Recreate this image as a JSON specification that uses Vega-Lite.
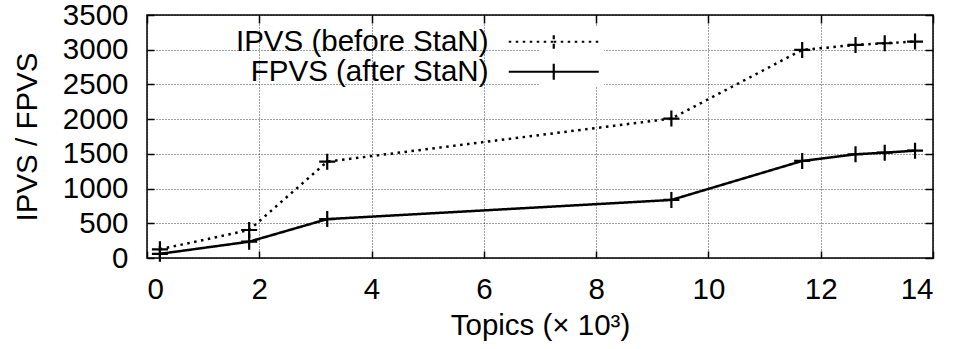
{
  "$schema": "https://vega.github.io/schema/vega-lite/v6.json",
  "width": 786,
  "height": 243,
  "autosize": {"type": "none"},
  "padding": {"left": 147, "top": 15, "right": 24, "bottom": 91},
  "background": "white",
  "config": {
    "font": "Liberation Sans",
    "view": {"stroke": "black", "strokeWidth": 1.5},
    "axis": {
      "labelFont": "Liberation Sans",
      "titleFont": "Liberation Sans",
      "labelFontSize": 29.5,
      "titleFontSize": 29.5,
      "titleFontWeight": "normal",
      "labelColor": "black",
      "titleColor": "black",
      "tickColor": "black",
      "tickWidth": 1.5,
      "domain": false
    },
    "legend": {"labelFont": "Liberation Sans", "labelColor": "black"}
  },
  "data": {
    "values": [
      {"topics": 0.23, "value": 125, "series": "IPVS (before StaN)"},
      {"topics": 1.82, "value": 403, "series": "IPVS (before StaN)"},
      {"topics": 3.21, "value": 1388, "series": "IPVS (before StaN)"},
      {"topics": 9.34, "value": 2008, "series": "IPVS (before StaN)"},
      {"topics": 11.67, "value": 2997, "series": "IPVS (before StaN)"},
      {"topics": 12.62, "value": 3069, "series": "IPVS (before StaN)"},
      {"topics": 13.14, "value": 3093, "series": "IPVS (before StaN)"},
      {"topics": 13.68, "value": 3117, "series": "IPVS (before StaN)"},
      {"topics": 0.23, "value": 60, "series": "FPVS (after StaN)"},
      {"topics": 1.82, "value": 235, "series": "FPVS (after StaN)"},
      {"topics": 3.21, "value": 560, "series": "FPVS (after StaN)"},
      {"topics": 9.34, "value": 836, "series": "FPVS (after StaN)"},
      {"topics": 11.67, "value": 1398, "series": "FPVS (after StaN)"},
      {"topics": 12.62, "value": 1494, "series": "FPVS (after StaN)"},
      {"topics": 13.14, "value": 1517, "series": "FPVS (after StaN)"},
      {"topics": 13.68, "value": 1546, "series": "FPVS (after StaN)"}
    ]
  },
  "layer": [
    {
      "mark": {"type": "line", "strokeWidth": 2.5, "color": "black"},
      "encoding": {
        "x": {
          "field": "topics", "type": "quantitative",
          "scale": {"domain": [0, 14], "nice": false},
          "axis": {"orient": "bottom", "values": [0, 2, 4, 6, 8, 10, 12, 14], "format": "d", "title": "Topics (× 10³)",
                   "tickSize": -7, "labelPadding": 24, "titlePadding": 8,
                   "grid": true, "gridDash": [1, 2], "gridColor": "#000", "gridOpacity": 0.75, "gridWidth": 1}
        },
        "y": {
          "field": "value", "type": "quantitative",
          "scale": {"domain": [0, 3500], "nice": false},
          "axis": {"orient": "left", "values": [0, 500, 1000, 1500, 2000, 2500, 3000, 3500], "format": "d", "title": "IPVS / FPVS",
                   "tickSize": -7, "labelPadding": 26, "titlePadding": 20,
                   "grid": true, "gridDash": [1, 2], "gridColor": "#000", "gridOpacity": 0.75, "gridWidth": 1}
        },
        "strokeDash": {
          "field": "series", "type": "nominal",
          "scale": {"domain": ["IPVS (before StaN)", "FPVS (after StaN)"], "range": [[2.5, 4.5], [1, 0]]},
          "legend": {
            "orient": "none", "legendX": 392, "legendY": 12, "title": null,
            "symbolType": "M-5.625,0H0V-1V1V0H5.625",
            "symbolSize": 256, "symbolStrokeWidth": 2.2, "symbolStrokeColor": "black", "symbolFillColor": "transparent",
            "labelFontSize": 29.5, "labelAlign": "right", "labelOffset": -80, "labelLimit": 400,
            "fillColor": "white", "padding": 0, "rowPadding": -2,
            "encode": {"symbols": {"update": {"strokeDash": {"signal": "datum.value === 'IPVS (before StaN)' ? [0,2,3,4,3,4,3,4,3,4,3,4,48,4,3,4,3,4,3,4,3,4,3,2] : [1,0]"}}}}
          }
        }
      }
    },
    {
      "mark": {"type": "point", "shape": "M-1,0H1M0,-1V1", "size": 256, "filled": false, "stroke": "black", "strokeWidth": 2.2, "opacity": 1},
      "encoding": {
        "x": {"field": "topics", "type": "quantitative",
              "axis": {"orient": "top", "values": [0, 2, 4, 6, 8, 10, 12, 14], "labels": false, "title": null, "tickSize": -8, "grid": false}},
        "y": {"field": "value", "type": "quantitative",
              "axis": {"orient": "right", "values": [0, 500, 1000, 1500, 2000, 2500, 3000, 3500], "labels": false, "title": null, "tickSize": -8, "grid": false}},
        "detail": {"field": "series", "type": "nominal"}
      }
    }
  ]
}
